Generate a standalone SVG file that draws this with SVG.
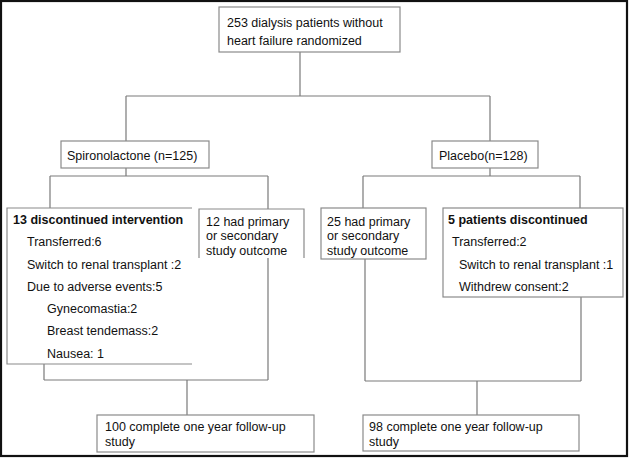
<svg xmlns="http://www.w3.org/2000/svg" width="629" height="458" viewBox="0 0 629 458">
<style>
text{font-family:"Liberation Sans",Arial,sans-serif;font-size:12.5px;fill:#111}
.b{font-weight:bold}
.box{fill:#fff;stroke:#8a8a8a;stroke-width:1.2}
.ln{fill:none;stroke:#7a7a7a;stroke-width:1.2}
</style>
<rect x="0" y="0" width="629" height="458" fill="#fff"/>
<rect x="1" y="1" width="626" height="455" fill="none" stroke="#111" stroke-width="2.2"/>
<g id="connectors">
<path class="ln" d="M300 52V96M126 96H490M126 96V141M490 96V141"/>
<path class="ln" d="M126 168V176M50 176H268M50 176V208M268 176V209"/>
<path class="ln" d="M490 168V176M363 176H580M363 176V208M580 176V208"/>
<path class="ln" d="M44 364V380M268 258V380M44 380H268M187 380V415"/>
<path class="ln" d="M365 259V381M581 297V381M365 381H581M477 381V415"/>
</g>
<g id="top">
<rect class="box" x="219" y="7" width="181" height="45"/>
<text x="227" y="27">253  dialysis patients without</text>
<text x="227" y="45">heart failure randomized</text>
</g>
<g id="spiro">
<rect class="box" x="61" y="141" width="148" height="27"/>
<text x="67" y="159.5">Spironolactone (n=125)</text>
</g>
<g id="placebo">
<rect class="box" x="432" y="141" width="106" height="27"/>
<text x="439" y="159.5">Placebo(n=128)</text>
</g>
<g id="disc13">
<path class="box" d="M192 208H7V364H192"/>
<text class="b" x="13" y="224">13 discontinued intervention</text>
<text x="27" y="246">Transferred:6</text>
<text x="27" y="268.5">Switch to renal transplant :2</text>
<text x="27" y="290.5">Due to adverse events:5</text>
<text x="47" y="313">Gynecomastia:2</text>
<text x="47" y="335">Breast tendemass:2</text>
<text x="47" y="357.5">Nausea: 1</text>
</g>
<g id="out12">
<path class="box" d="M199 258V209H304V258"/>
<text x="206" y="225.5">12 had primary</text>
<text x="206" y="240">or secondary</text>
<text x="206" y="254.5">study outcome</text>
</g>
<g id="out25">
<rect class="box" x="321" y="208" width="105" height="51"/>
<text x="327" y="225.5">25 had primary</text>
<text x="327" y="240">or secondary</text>
<text x="327" y="254.5">study outcome</text>
</g>
<g id="disc5">
<rect class="box" x="443" y="208" width="180" height="89"/>
<text class="b" x="448" y="224">5 patients discontinued</text>
<text x="452" y="246">Transferred:2</text>
<text x="459" y="268.5">Switch to renal transplant :1</text>
<text x="459" y="290.5">Withdrew consent:2</text>
</g>
<g id="complete100">
<rect class="box" x="97" y="415" width="217" height="37"/>
<text x="105" y="431">100 complete one year follow-up</text>
<text x="105" y="445.5">study</text>
</g>
<g id="complete98">
<rect class="box" x="363" y="415" width="216" height="36"/>
<text x="369" y="431">98 complete one year follow-up</text>
<text x="369" y="445.5">study</text>
</g>
</svg>
